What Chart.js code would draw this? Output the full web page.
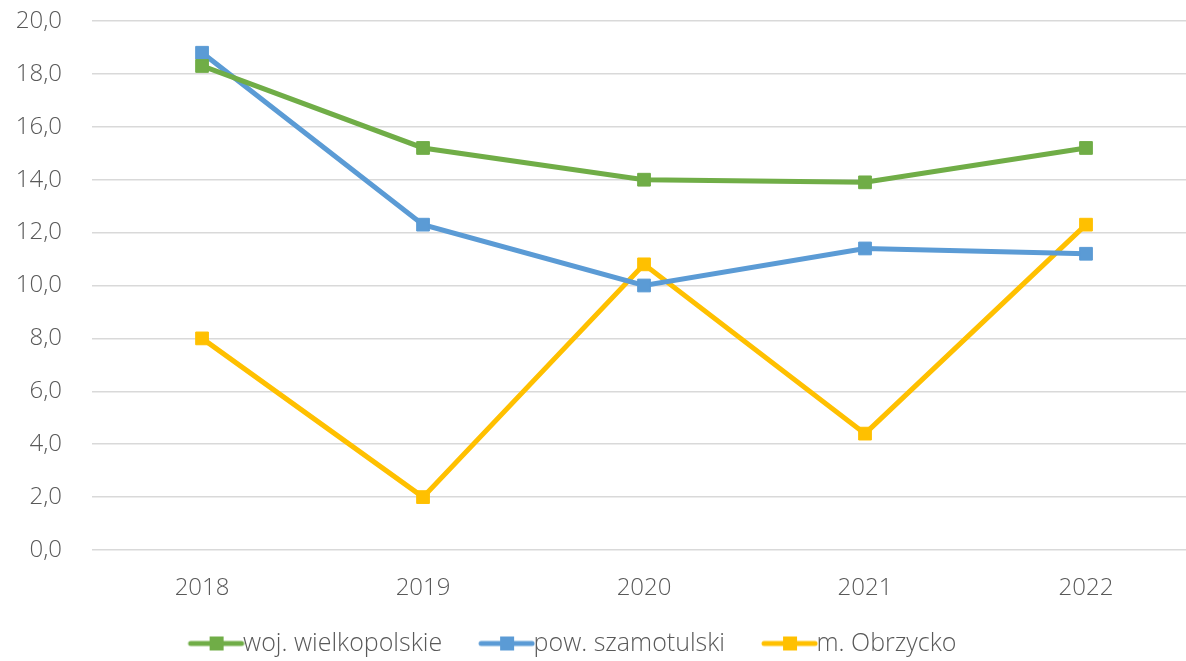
<!DOCTYPE html>
<html>
<head>
<meta charset="utf-8">
<script src="https://cdn.jsdelivr.net/npm/chart.js@4/dist/chart.umd.min.js"></script>
<style>
  html, body { margin: 0; padding: 0; background: #ffffff; }
  #wrap { width: 1186px; height: 661px; }
</style>
</head>
<body>
<div id="wrap"><canvas id="c"></canvas></div>
<script>
// Years on the horizontal axis
const years = [2018, 2019, 2020, 2021, 2022];

// Series values
const wojWielkopolskie = [18.3, 15.2, 14.0, 13.9, 15.2];
const powSzamotulski  = [18.8, 12.3, 10.0, 11.4, 11.2];
const mObrzycko       = [8.0, 2.0, 10.8, 4.4, 12.3];

// Series names and colours
const seriesNames  = ['woj. wielkopolskie', 'pow. szamotulski', 'm. Obrzycko'];
const seriesColors = ['#70AD47', '#5B9BD5', '#FFC000'];

// Value-axis ticks
const yTicks = [0, 2, 4, 6, 8, 10, 12, 14, 16, 18, 20];

const FONT = '"Open Sans", Lato, sans-serif';
const AXIS_FONT = { family: FONT, size: 24, weight: '300' };
const LEGEND_FONT = { family: FONT, size: 25, weight: '300' };
const TEXT = '#595959';

// Legend swatch: a short line with a square marker, drawn on a small canvas
const BOX_W = 69;
const SWATCH_EXTRA = 14;
function legendSwatch(color) {
  const w = BOX_W + 2 * SWATCH_EXTRA, h = 16;
  const cv = document.createElement('canvas');
  cv.width = w; cv.height = h;
  const g = cv.getContext('2d');
  g.strokeStyle = color;
  g.lineWidth = 5;
  g.lineCap = 'round';
  g.beginPath();
  g.moveTo(w - 54, h / 2);
  g.lineTo(w - 3, h / 2);
  g.stroke();
  g.fillStyle = color;
  g.fillRect(w - 28 - 7, h / 2 - 7, 14, 14);
  return cv;
}
const swatches = seriesColors.map(legendSwatch);

// Moves the legend row sideways after layout
const LEGEND_SHIFT = -34;
const legendShift = {
  id: 'legendShift',
  afterLayout(chart) {
    if (chart.legend) {
      chart.legend.left += LEGEND_SHIFT;
      chart.legend.right += LEGEND_SHIFT;
    }
  }
};

const seriesData = [wojWielkopolskie, powSzamotulski, mObrzycko];
const datasets = seriesData.map((vals, i) => ({
  label: seriesNames[i],
  data: years.map((y, j) => ({ x: y, y: vals[j] })),
  borderColor: seriesColors[i],
  backgroundColor: seriesColors[i],
  borderWidth: 5,
  pointStyle: 'rect',
  pointRadius: 9,
  pointBorderWidth: 1,
  pointBorderColor: seriesColors[i],
  pointBackgroundColor: seriesColors[i],
  tension: 0,
  fill: false
}));

new Chart(document.getElementById('c'), {
  type: 'line',
  data: { datasets },
  plugins: [legendShift],
  options: {
    responsive: true,
    maintainAspectRatio: false,
    animation: false,
    layout: { autoPadding: false, padding: { left: 0, right: 0, top: 21, bottom: -5 } },
    plugins: {
      tooltip: { enabled: false },
      legend: {
        position: 'bottom',
        labels: {
          usePointStyle: true,
          pointStyleWidth: BOX_W,
          padding: 10,
          color: TEXT,
          font: LEGEND_FONT,
          generateLabels(chart) {
            const items = Chart.defaults.plugins.legend.labels.generateLabels(chart);
            items.forEach((it, i) => { it.pointStyle = swatches[i]; });
            return items;
          }
        }
      }
    },
    scales: {
      x: {
        type: 'linear',
        min: 2017.502,
        max: 2022.4525,
        afterBuildTicks(scale) {
          scale.ticks = years.map(v => ({ value: v }));
        },
        afterFit(scale) {
          scale.height = 71;
          scale.paddingLeft = 0;
          scale.paddingRight = 0;
        },
        grid: { display: false, drawTicks: false },
        border: { display: false },
        ticks: {
          padding: 24,
          color: TEXT,
          font: AXIS_FONT,
          callback: v => String(v)
        }
      },
      y: {
        min: 0,
        max: 20,
        afterBuildTicks(scale) {
          scale.ticks = yTicks.map(v => ({ value: v }));
        },
        afterFit(scale) {
          scale.width = 92;
          scale.paddingTop = 0;
          scale.paddingBottom = 0;
        },
        grid: { color: '#D9D9D9', lineWidth: 1.5, drawTicks: false },
        border: { display: false },
        ticks: {
          padding: 30,
          color: TEXT,
          font: AXIS_FONT,
          callback: v => v.toFixed(1).replace('.', ',')
        }
      }
    }
  }
});
</script>
</body>
</html>
